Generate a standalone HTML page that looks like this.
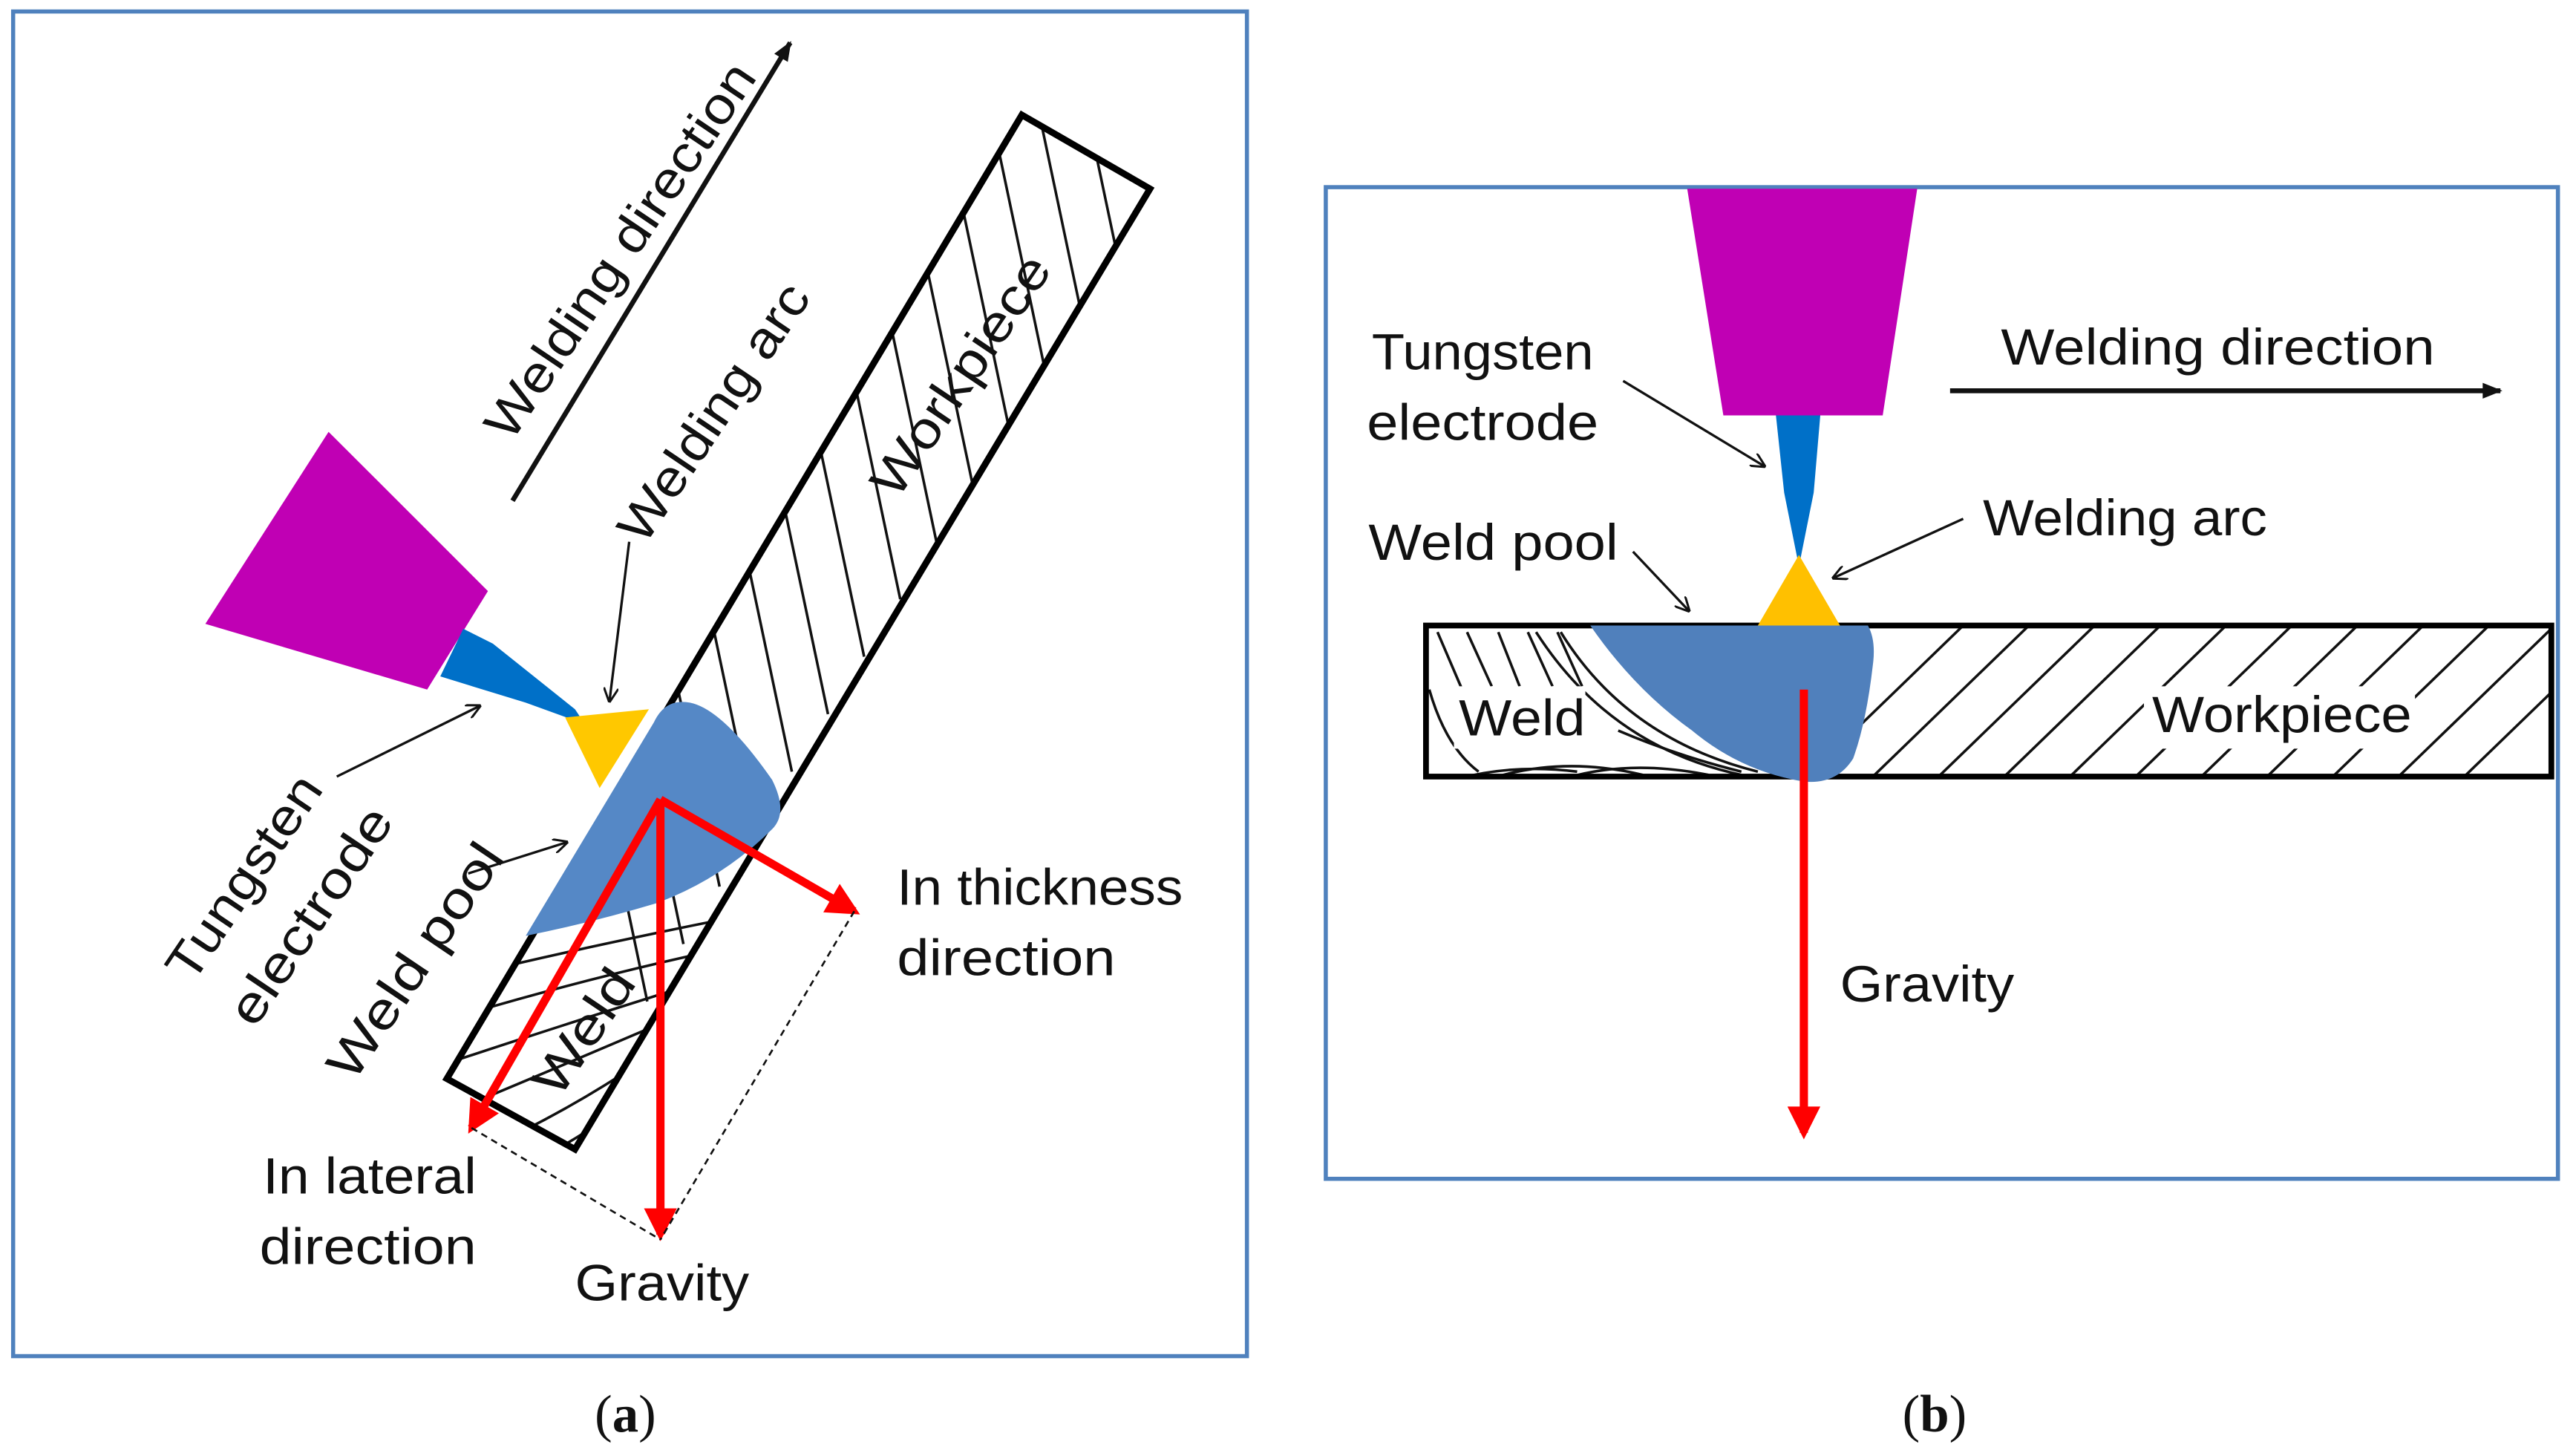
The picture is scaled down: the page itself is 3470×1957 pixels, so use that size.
<!DOCTYPE html>
<html><head><meta charset="utf-8"><style>
html,body{margin:0;padding:0;background:#fff;}
svg{display:block;}
text{font-family:"Liberation Sans","DejaVu Sans",sans-serif;fill:#111;}
</style></head><body>
<svg width="3470" height="1957" viewBox="0 0 1568 885" preserveAspectRatio="none" xmlns="http://www.w3.org/2000/svg">
<defs>
<marker id="ah" viewBox="0 0 10 10" refX="9" refY="5" markerWidth="9" markerHeight="9" orient="auto-start-reverse" markerUnits="userSpaceOnUse"><path d="M0,0 L10,5 L0,10" fill="none" stroke="#111" stroke-width="1.5"/></marker>
<marker id="ahf" viewBox="0 0 10 10" refX="9" refY="5" markerWidth="14" markerHeight="12" orient="auto" markerUnits="userSpaceOnUse"><path d="M0,1 L10,5 L0,9 Z" fill="#111"/></marker>
<marker id="ahr" viewBox="0 0 10 10" refX="8" refY="5" markerWidth="22" markerHeight="20" orient="auto" markerUnits="userSpaceOnUse"><path d="M0,0 L10,5 L0,10 Z" fill="#f00"/></marker>
<clipPath id="stripA"><polygon points="622,70 700,115 350,700 272,657"/></clipPath>
<clipPath id="wpB"><rect x="868" y="381" width="685" height="92"/></clipPath>
</defs>

<!-- Panel a -->
<rect x="8" y="7" width="751" height="819" fill="none" stroke="#4f81bd" stroke-width="2.5"/>
<g clip-path="url(#stripA)" stroke="#111" stroke-width="1.6" fill="none">
  <line x1="354" y1="420" x2="394" y2="610"/>
  <line x1="376" y1="385" x2="416" y2="575"/>
  <line x1="398" y1="350" x2="438" y2="540"/>
  <line x1="420" y1="315" x2="460" y2="505"/>
  <line x1="442" y1="280" x2="482" y2="470"/>
  <line x1="464" y1="245" x2="504" y2="435"/>
  <line x1="486" y1="210" x2="526" y2="400"/>
  <line x1="508" y1="175" x2="548" y2="365"/>
  <line x1="530" y1="140" x2="570" y2="330"/>
  <line x1="552" y1="105" x2="592" y2="295"/>
  <line x1="574" y1="70" x2="614" y2="260"/>
  <line x1="596" y1="35" x2="636" y2="225"/>
  <line x1="618" y1="0" x2="658" y2="190"/>
  <line x1="640" y1="-35" x2="680" y2="155"/>
  <line x1="662" y1="-70" x2="702" y2="120"/>
  <path d="M260,600 Q340,580 440,560"/>
  <path d="M260,625 Q340,600 430,580"/>
  <path d="M265,650 Q340,625 420,600"/>
  <path d="M280,675 Q340,650 410,620"/>
  <path d="M295,700 Q350,675 400,640"/>
  <path d="M320,710 Q360,690 390,665"/>
</g>
<polygon points="622,70 700,115 350,700 272,657" fill="none" stroke="#000" stroke-width="4"/>
<polygon points="200,263 297,360 260,420 125,380" fill="#c000b4"/>
<polygon points="282,383 268,412 320,428 356,441 350,432 300,392" fill="#0070c8"/>
<polygon points="344,437 395,432 365,480" fill="#ffc800"/>
<path d="M320,570 L398,440 Q405,425 420,428 Q440,432 470,475 Q480,495 470,505 Q440,535 400,550 Q360,562 320,570 Z" fill="#5588c6"/>
<g stroke="#f00" stroke-width="5" fill="none">
<line x1="402" y1="487" x2="402" y2="752" marker-end="url(#ahr)"/>
<line x1="402" y1="487" x2="520" y2="555" marker-end="url(#ahr)"/>
<line x1="402" y1="487" x2="287" y2="687" marker-end="url(#ahr)"/>
</g>
<g stroke="#111" stroke-width="1.2" stroke-dasharray="4,3"><line x1="287" y1="687" x2="402" y2="755"/><line x1="520" y1="555" x2="402" y2="755"/></g>
<line x1="312" y1="305" x2="481" y2="26" stroke="#111" stroke-width="3" marker-end="url(#ahf)"/>
<g stroke="#111" stroke-width="1.5" fill="none" marker-end="url(#ah)">
<line x1="383" y1="330" x2="371" y2="427"/>
<line x1="205" y1="473" x2="292" y2="430"/>
<line x1="285" y1="532" x2="345" y2="513"/>
</g>
<g font-size="31" lengthAdjust="spacingAndGlyphs">
<text transform="translate(311,270) rotate(-56)" textLength="269" lengthAdjust="spacingAndGlyphs">Welding direction</text>
<text transform="translate(392,333) rotate(-56)" textLength="183" lengthAdjust="spacingAndGlyphs">Welding arc</text>
<text transform="translate(546,305) rotate(-56)" textLength="170" lengthAdjust="spacingAndGlyphs">Workpiece</text>
<text transform="translate(117,600) rotate(-56)" textLength="144" lengthAdjust="spacingAndGlyphs">Tungsten</text>
<text transform="translate(155,627) rotate(-56)" textLength="153" lengthAdjust="spacingAndGlyphs">electrode</text>
<text transform="translate(215,660) rotate(-56)" textLength="166" lengthAdjust="spacingAndGlyphs">Weld pool</text>
<text transform="translate(340,670) rotate(-56)" textLength="86" lengthAdjust="spacingAndGlyphs">Weld</text>
<text x="546" y="551" textLength="174" lengthAdjust="spacingAndGlyphs">In thickness</text>
<text x="546" y="594" textLength="133" lengthAdjust="spacingAndGlyphs">direction</text>
<text x="160" y="727" textLength="130" lengthAdjust="spacingAndGlyphs">In lateral</text>
<text x="158" y="770" textLength="132" lengthAdjust="spacingAndGlyphs">direction</text>
<text x="350" y="792" textLength="106" lengthAdjust="spacingAndGlyphs">Gravity</text>
</g>

<!-- Panel b -->
<rect x="807" y="114" width="750" height="604" fill="none" stroke="#4f81bd" stroke-width="2.5"/>
<g clip-path="url(#wpB)" stroke="#111" stroke-width="1.6" fill="none">
  <line x1="1100" y1="473" x2="1195" y2="381"/>
  <line x1="1140" y1="473" x2="1235" y2="381"/>
  <line x1="1180" y1="473" x2="1275" y2="381"/>
  <line x1="1220" y1="473" x2="1315" y2="381"/>
  <line x1="1260" y1="473" x2="1355" y2="381"/>
  <line x1="1300" y1="473" x2="1395" y2="381"/>
  <line x1="1340" y1="473" x2="1435" y2="381"/>
  <line x1="1380" y1="473" x2="1475" y2="381"/>
  <line x1="1420" y1="473" x2="1515" y2="381"/>
  <line x1="1460" y1="473" x2="1555" y2="381"/>
  <line x1="1500" y1="473" x2="1595" y2="381"/>
  <line x1="875" y1="385" x2="890" y2="420"/>
  <line x1="893" y1="385" x2="908" y2="418"/>
  <line x1="912" y1="385" x2="925" y2="418"/>
  <line x1="930" y1="385" x2="945" y2="418"/>
  <line x1="948" y1="385" x2="963" y2="418"/>
  <path d="M950,385 Q990,450 1070,470"/>
  <path d="M935,385 Q980,455 1060,472"/>
  <path d="M870,420 Q880,455 900,470"/>
  <path d="M885,475 Q920,465 960,470"/>
  <path d="M905,475 Q950,460 1000,472"/>
  <path d="M950,475 Q990,462 1040,472"/>
  <path d="M985,445 Q1020,460 1060,470"/>
</g>
<rect x="868" y="381" width="685" height="92" fill="none" stroke="#000" stroke-width="3.5"/>
<path d="M968,381 L1137,381 Q1142,390 1140,405 Q1136,440 1128,462 Q1118,478 1098,476 Q1060,470 1030,445 Q995,420 968,381 Z" fill="#5080bc"/>
<polygon points="1027,115 1167,115 1146,253 1049,253" fill="#c000b4"/>
<polygon points="1081,253 1108,253 1104,300 1095,345 1086,300" fill="#0070c8"/>
<polygon points="1095,338 1070,381 1120,381" fill="#ffc000"/>
<line x1="1098" y1="420" x2="1098" y2="690" stroke="#f00" stroke-width="5" marker-end="url(#ahr)"/>
<line x1="1187" y1="238" x2="1522" y2="238" stroke="#111" stroke-width="3" marker-end="url(#ahf)"/>
<g stroke="#111" stroke-width="1.5" fill="none" marker-end="url(#ah)">
<line x1="988" y1="232" x2="1074" y2="284"/>
<line x1="1195" y1="316" x2="1116" y2="352"/>
<line x1="994" y1="336" x2="1028" y2="372"/>
</g>
<rect x="885" y="418" width="80" height="38" fill="#fff"/>
<rect x="1305" y="418" width="165" height="38" fill="#fff"/>
<g font-size="31">
<text x="835" y="225" textLength="135" lengthAdjust="spacingAndGlyphs">Tungsten</text>
<text x="832" y="268" textLength="141" lengthAdjust="spacingAndGlyphs">electrode</text>
<text x="1218" y="222" textLength="264" lengthAdjust="spacingAndGlyphs">Welding direction</text>
<text x="1207" y="326" textLength="173" lengthAdjust="spacingAndGlyphs">Welding arc</text>
<text x="833" y="341" textLength="152" lengthAdjust="spacingAndGlyphs">Weld pool</text>
<text x="888" y="448" textLength="77" lengthAdjust="spacingAndGlyphs">Weld</text>
<text x="1310" y="446" textLength="158" lengthAdjust="spacingAndGlyphs">Workpiece</text>
<text x="1120" y="610" textLength="106" lengthAdjust="spacingAndGlyphs">Gravity</text>
</g>
<g font-size="32">
<text x="362" y="872" style="font-family:'Liberation Serif',serif">(<tspan font-weight="bold">a</tspan>)</text>
<text x="1158" y="872" style="font-family:'Liberation Serif',serif">(<tspan font-weight="bold">b</tspan>)</text>
</g>
</svg>
</body></html>
